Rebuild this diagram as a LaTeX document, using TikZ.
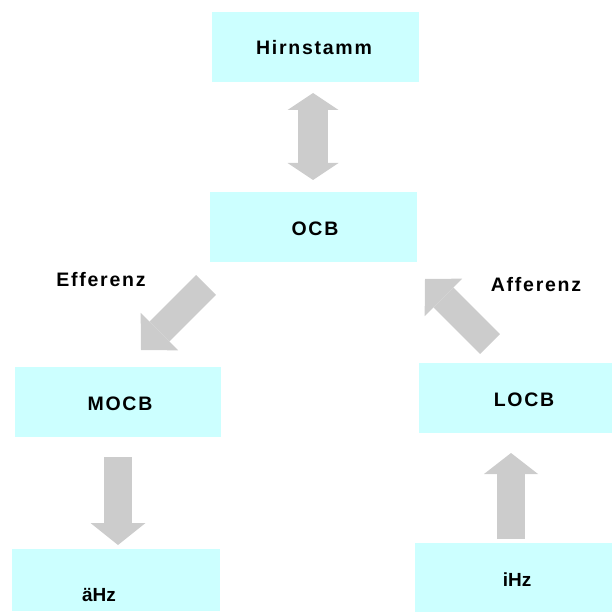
\documentclass[tikz,border=0pt]{standalone}
\usepackage{fontspec}
\setmainfont{Liberation Sans}
\newfontfamily\spacedsans[LetterSpace=9]{Liberation Sans}
\usetikzlibrary{arrows.meta}
\definecolor{boxfill}{HTML}{CCFFFF}
\definecolor{arrowgray}{HTML}{CCCCCC}
\begin{document}
\begin{tikzpicture}[x=1pt,y=-1pt,
  block/.style={fill=boxfill, draw=none, inner sep=0pt,
    minimum width=207pt, minimum height=70pt},
  lbl/.style={anchor=base, inner sep=0pt,
    font=\fontsize{19}{22}\selectfont\bfseries},
  slbl/.style={anchor=base, inner sep=0pt,
    font=\spacedsans\fontsize{19.5}{22}\selectfont\bfseries},
  fat/.style={draw=arrowgray, line width=#1}
]
\useasboundingbox (0,0) rectangle (612,612);
\clip (0,0) rectangle (612,612);

% boxes
\node[block] (hirn) at (315.5,47) {};
\node[block] (ocb) at (313.5,227) {};
\node[block, minimum width=206pt] (mocb) at (118,402) {};
\node[block] (locb) at (522.5,398) {};
\node[block, minimum width=208pt, minimum height=62pt] (aehz) at (116,580) {};
\node[block, minimum width=205pt] (ihz) at (517.5,578) {};

% box texts
\node[slbl] (thirn) at (314,55) {Hirnstamm};
\node[slbl] (tocb) at (315,235) {OCB};
\node[slbl] (tmocb) at (120,410) {MOCB};
\node[slbl] (tlocb) at (524,406.7) {LOCB};
\node[lbl] (taehz) at (99,601) {äHz};
\node[lbl] (tihz) at (517,586.7) {iHz};

% side labels
\node[slbl] (teff) at (101,286.7) {Efferenz};
\node[slbl] (taff) at (536,291.7) {Afferenz};

% arrow end points
\coordinate (hirnout) at (313,93);
\coordinate (ocbin) at (313,180);
\coordinate (effstart) at (206,285);
\coordinate (effend) at (141,350);
\coordinate (affstart) at (490,344);
\coordinate (affend) at (425,279);
\coordinate (mocbout) at (118,457);
\coordinate (aehzin) at (118,545);
\coordinate (ihzout) at (511,539);
\coordinate (locbin) at (511,453);

% block arrows
\draw[fat=30pt, {Triangle[width=51pt,length=17pt,line width=0pt]}-{Triangle[width=51pt,length=17pt,line width=0pt]}] (hirnout) -- (ocbin);
\draw[fat=28pt, -{Triangle[width=53pt,length=26pt,line width=0pt]}] (effstart) -- (effend);
\draw[fat=28pt, -{Triangle[width=53pt,length=26pt,line width=0pt]}] (affstart) -- (affend);
\draw[fat=28pt, -{Triangle[width=55pt,length=22pt,line width=0pt]}] (mocbout) -- (aehzin);
\draw[fat=28pt, -{Triangle[width=54pt,length=21pt,line width=0pt]}] (ihzout) -- (locbin);
\end{tikzpicture}
\end{document}
